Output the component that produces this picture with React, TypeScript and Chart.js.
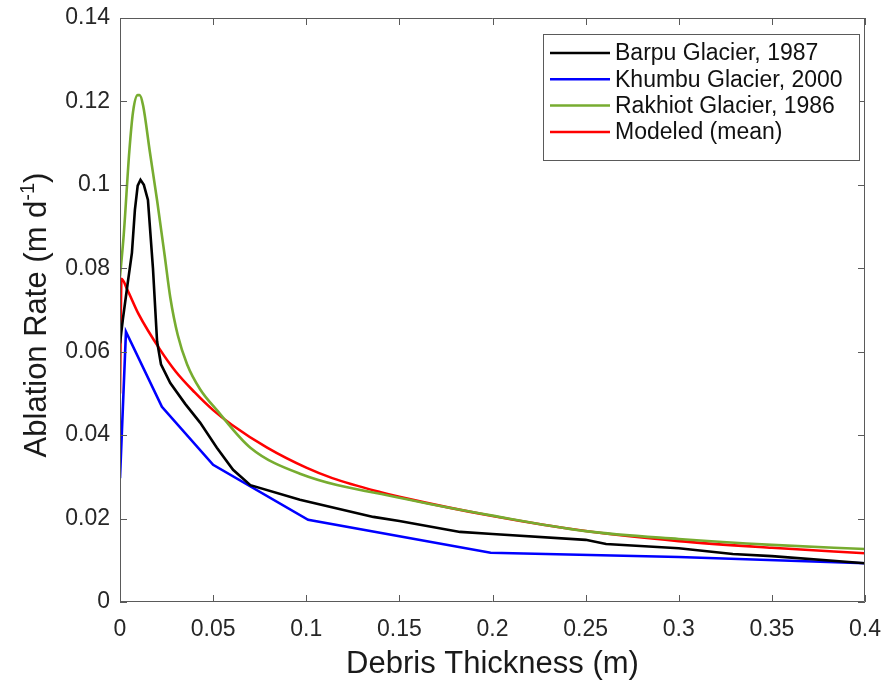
import React, { useEffect, useRef } from "react";
import { Chart, registerables } from "chart.js";

Chart.register(...registerables);

// ---- Data ----
const barpuX = [0, 0.0016, 0.004, 0.0064, 0.008, 0.0095, 0.011, 0.0128, 0.015, 0.0177, 0.0199, 0.022, 0.027, 0.035, 0.043, 0.052, 0.0607, 0.07, 0.0966, 0.136, 0.15, 0.1826, 0.2, 0.25, 0.261, 0.3, 0.329, 0.35, 0.4];
const barpuY = [0.062, 0.068, 0.076, 0.0837, 0.094, 0.0998, 0.1012, 0.1, 0.0964, 0.08, 0.0625, 0.057, 0.0525, 0.0475, 0.043, 0.037, 0.0317, 0.028, 0.0245, 0.0204, 0.0194, 0.0168, 0.0163, 0.0149, 0.0139, 0.0129, 0.0115, 0.011, 0.0093];

const khumbuX = [0, 0.0032, 0.0225, 0.05, 0.101, 0.199, 0.3, 0.4];
const khumbuY = [0.0297, 0.0648, 0.0468, 0.0329, 0.0197, 0.0118, 0.0108, 0.0093];

const rakhiotX = [0, 0.002, 0.005, 0.007, 0.0095, 0.0105, 0.0124, 0.016, 0.02, 0.024, 0.027, 0.031, 0.036, 0.043, 0.052, 0.07, 0.097, 0.15, 0.2, 0.25, 0.3, 0.35, 0.4];
const rakhiotY = [0.078, 0.088, 0.108, 0.1175, 0.1215, 0.1215, 0.119, 0.108, 0.096, 0.083, 0.073, 0.064, 0.057, 0.051, 0.046, 0.037, 0.0307, 0.025, 0.0207, 0.017, 0.0151, 0.0137, 0.0127];

const modelX = [0, 0.0008, 0.004, 0.01, 0.0215, 0.03, 0.04, 0.05, 0.06, 0.079, 0.1, 0.114, 0.14, 0.15, 0.2, 0.25, 0.3, 0.35, 0.4];
const modelY = [0.05, 0.0775, 0.0748, 0.069, 0.0605, 0.0552, 0.0503, 0.046, 0.0425, 0.037, 0.0322, 0.0297, 0.0263, 0.0252, 0.0206, 0.017, 0.0146, 0.013, 0.0117];

const seriesNames = ["Barpu Glacier, 1987", "Khumbu Glacier, 2000", "Rakhiot Glacier, 1986", "Modeled (mean)"];
const seriesColors = ["#000000", "#0000ff", "#77ac30", "#ff0000"];

const xTitle = "Debris Thickness (m)";
const yTitleMain = "Ablation Rate (m d";
const yTitleSup = "-1";
const yTitleEnd = ")";

const FONT = "'Liberation Sans', Arial, Helvetica, sans-serif";

function pts(xs: number[], ys: number[]) {
  return xs.map((x, i) => ({ x, y: ys[i] }));
}

const framePlugin = {
  id: "matlabFrame",
  afterDatasetsDraw(chart: any) {
    const ctx = chart.ctx;
    const { left, right, top, bottom } = chart.chartArea;
    const xs = chart.scales.x;
    const ys = chart.scales.y;
    ctx.save();
    ctx.strokeStyle = "#5a5a5a";
    ctx.lineWidth = 1;
    ctx.beginPath();
    ctx.rect(left + 0.5, top + 0.5, right - left - 1, bottom - top - 1);
    ctx.stroke();
    const tl = 7;
    ctx.beginPath();
    xs.ticks.forEach((t: any) => {
      const px = Math.round(xs.getPixelForValue(t.value)) + 0.5;
      ctx.moveTo(px, bottom);
      ctx.lineTo(px, bottom - tl);
      ctx.moveTo(px, top);
      ctx.lineTo(px, top + tl);
    });
    ys.ticks.forEach((t: any) => {
      const py = Math.round(ys.getPixelForValue(t.value)) + 0.5;
      ctx.moveTo(left, py);
      ctx.lineTo(left + tl, py);
      ctx.moveTo(right, py);
      ctx.lineTo(right - tl, py);
    });
    ctx.stroke();

    // Legend
    const lx = 543, ly = 34, lw = 316, lh = 126;
    ctx.fillStyle = "#ffffff";
    ctx.fillRect(lx, ly, lw, lh);
    ctx.strokeStyle = "#5a5a5a";
    ctx.strokeRect(lx + 0.5, ly + 0.5, lw, lh);
    ctx.font = `23px ${FONT}`;
    ctx.textBaseline = "middle";
    ctx.textAlign = "left";
    seriesNames.forEach((name, i) => {
      const y = 53 + i * 26.3;
      ctx.strokeStyle = seriesColors[i];
      ctx.lineWidth = 2.5;
      ctx.beginPath();
      ctx.moveTo(550, y);
      ctx.lineTo(610, y);
      ctx.stroke();
      ctx.fillStyle = "#111111";
      ctx.fillText(name, 615, y + 1);
    });

    // Axis titles
    ctx.fillStyle = "#1a1a1a";
    ctx.font = `31px ${FONT}`;
    ctx.textAlign = "center";
    ctx.textBaseline = "alphabetic";
    ctx.fillText(xTitle, (left + right) / 2, 673);

    ctx.save();
    ctx.translate(46, 315);
    ctx.rotate(-Math.PI / 2);
    ctx.textAlign = "left";
    ctx.font = `31px ${FONT}`;
    const w1 = ctx.measureText(yTitleMain).width;
    ctx.font = `20px ${FONT}`;
    const w2 = ctx.measureText(yTitleSup).width;
    ctx.font = `31px ${FONT}`;
    const w3 = ctx.measureText(yTitleEnd).width;
    const total = w1 + w2 + w3;
    let cx = -total / 2;
    ctx.fillText(yTitleMain, cx, 0);
    cx += w1;
    ctx.font = `20px ${FONT}`;
    ctx.fillText(yTitleSup, cx, -12);
    cx += w2;
    ctx.font = `31px ${FONT}`;
    ctx.fillText(yTitleEnd, cx, 0);
    ctx.restore();
    ctx.restore();
  },
};

function fmt(v: number) {
  return String(Number(Number(v).toFixed(3)));
}

function noPad(s: any) {
  s.paddingLeft = 0;
  s.paddingRight = 0;
  s.paddingTop = 0;
  s.paddingBottom = 0;
}

export default function App() {
  const ref = useRef<HTMLCanvasElement | null>(null);
  useEffect(() => {
    if (!ref.current) return;
    const mk = (label: string, xs: number[], ys: number[], color: string, mono: boolean) => ({
      label,
      data: pts(xs, ys),
      borderColor: color,
      backgroundColor: color,
      borderWidth: 2.6,
      pointRadius: 0,
      fill: false,
      tension: 0,
      cubicInterpolationMode: mono ? "monotone" : "default",
    });
    const chart = new Chart(ref.current, {
      type: "line",
      data: {
        datasets: [
          mk(seriesNames[0], barpuX, barpuY, seriesColors[0], false),
          mk(seriesNames[1], khumbuX, khumbuY, seriesColors[1], false),
          mk(seriesNames[2], rakhiotX, rakhiotY, seriesColors[2], true),
          mk(seriesNames[3], modelX, modelY, seriesColors[3], true),
        ] as any,
      },
      options: {
        animation: false,
        responsive: true,
        maintainAspectRatio: false,
        layout: { padding: { top: 18, right: 20, left: 0, bottom: 0 } },
        plugins: { legend: { display: false }, tooltip: { enabled: false } },
        scales: {
          x: {
            type: "linear",
            min: 0,
            max: 0.4,
            grid: { display: false, drawTicks: false },
            border: { display: false },
            ticks: {
              stepSize: 0.05,
              padding: 14,
              color: "#262626",
              font: { size: 23, family: FONT },
              maxRotation: 0,
              callback: (v: any) => fmt(v),
            },
            afterFit: (s: any) => {
              s.height = 82;
              noPad(s);
            },
          },
          y: {
            type: "linear",
            min: 0,
            max: 0.14,
            grid: { display: false, drawTicks: false },
            border: { display: false },
            ticks: {
              stepSize: 0.02,
              padding: 10,
              color: "#262626",
              font: { size: 23, family: FONT },
              callback: (v: any) => fmt(v),
            },
            afterFit: (s: any) => {
              s.width = 120;
              noPad(s);
            },
          },
        },
      } as any,
      plugins: [framePlugin],
    });
    return () => chart.destroy();
  }, []);
  return (
    <div style={{ position: "absolute", left: 0, top: 0, width: 885, height: 684, background: "#fff" }}>
      <canvas ref={ref} />
    </div>
  );
}
